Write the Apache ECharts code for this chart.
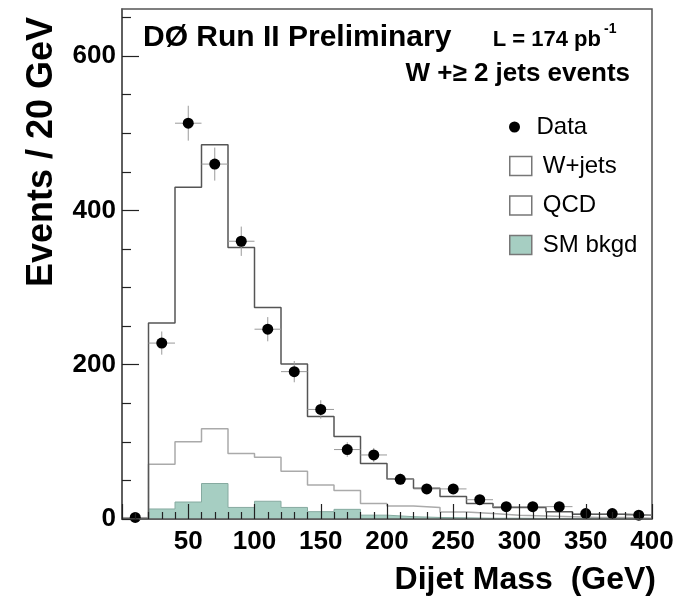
<!DOCTYPE html>
<html>
<head>
<meta charset="utf-8">
<title>Dijet Mass</title>
<script src="https://cdn.jsdelivr.net/npm/echarts@6/dist/echarts.min.js"></script>
<style>
  html, body { margin: 0; padding: 0; background: #fff; }
  #chart { width: 684px; height: 602px; }
</style>
</head>
<body>
<div id="chart"></div>
<script>
// bin edges for the MC histograms (20 GeV bins, 20..400)
const mcEdges = [20, 40, 60, 80, 100, 120, 140, 160, 180, 200, 220, 240, 260, 280, 300, 320, 340, 360, 380, 400]
// stacked totals, as drawn
const wjetsTotal = [254, 430, 485, 352, 274, 201, 133, 107, 72, 52, 40, 29, 20, 15, 15, 9.5, 6, 6, 5]
const qcdTotal = [71, 100, 117, 85, 80, 62, 44, 37, 20, 17, 15, 9, 7, 5, 4, 3, 2, 2, 1]
const smBkgd = [13, 22, 46, 15, 23, 15, 9.5, 12.5, 5, 3, 2, 1.5, 1, 1, 0.8, 0.5, 0.5, 0.3, 0.3]

// data points (bin centres 10..390)
const dataEdges = [0, 20, 40, 60, 80, 100, 120, 140, 160, 180, 200, 220, 240, 260, 280, 300, 320, 340, 360, 380, 400]
const dataCenters = [10, 30, 50, 70, 90, 110, 130, 150, 170, 190, 210, 230, 250, 270, 290, 310, 330, 350, 370, 390]
const dataValues = [2, 228, 513, 460, 360, 246, 191, 142, 90, 83, 51.5, 39, 39, 25, 16, 16, 16, 7, 7, 5]
const dataErrors = [1.4, 15, 22.6, 21.4, 19, 15.7, 13.8, 11.9, 9.5, 9.1, 7.2, 6.2, 6.2, 5, 4, 4, 4, 2.6, 2.6, 2.2]

// axis ticks
const yMajorTicks = [0, 200, 400, 600]
const yMinorTicks = [50, 100, 150, 250, 300, 350, 450, 500, 550, 650]

const FONT = 'Liberation Sans, Arial, Helvetica, sans-serif'
const FRAME = '#555'

// turn a histogram into step points (closed down to zero at both ends)
const toSteps = (edges, vals) => {
  const pts = [[edges[0], 0]]
  vals.forEach((v, i) => pts.push([edges[i], v]))
  pts.push([edges[vals.length], vals[vals.length - 1]])
  pts.push([edges[vals.length], 0])
  return pts
}

const chart = echarts.init(document.getElementById('chart'))

const option = {
  animation: false,
  backgroundColor: '#fff',
  grid: {
    left: 122, right: 32, top: 9, bottom: 83,
    show: true, borderColor: FRAME, borderWidth: 1.5,
    outerBoundsMode: 'none'
  },
  xAxis: {
    type: 'value',
    min: 0, max: 400, interval: 50,
    z: 10,
    axisLine: { lineStyle: { color: FRAME, width: 1.5 } },
    axisTick: { inside: true, length: 15, lineStyle: { color: '#222', width: 1.2 } },
    minorTick: { show: true, splitNumber: 5, length: 7, lineStyle: { color: '#222', width: 1.2 } },
    axisLabel: {
      showMinLabel: false, color: '#000', fontFamily: FONT,
      fontWeight: 'bold', fontSize: 26, margin: 10
    },
    splitLine: { show: false }
  },
  yAxis: [
    {
      type: 'value', position: 'left',
      min: 0, max: 661,
      z: 10,
      axisLine: { lineStyle: { color: FRAME, width: 1.5 } },
      axisTick: { inside: true, length: 9, customValues: yMinorTicks, lineStyle: { color: '#222', width: 1.2 } },
      axisLabel: {
        customValues: yMajorTicks, color: '#000', fontFamily: FONT,
        fontWeight: 'bold', fontSize: 26, margin: 6
      },
      splitLine: { show: false }
    },
    {
      type: 'value', position: 'left',
      min: 0, max: 661,
      z: 10,
      axisLine: { show: false },
      axisTick: { inside: true, length: 17, customValues: yMajorTicks, lineStyle: { color: '#222', width: 1.2 } },
      axisLabel: { show: false },
      splitLine: { show: false }
    }
  ],
  legend: [
    {
      left: 504, top: 110, orient: 'vertical',
      itemWidth: 22, itemHeight: 11,
      data: [{ name: 'Data', icon: 'circle', itemStyle: { color: '#000', opacity: 1 } }],
      textStyle: { fontFamily: FONT, fontSize: 24, lineHeight: 24, color: '#000', padding: [0, 0, 0, 6] },
      selectedMode: false
    },
    {
      left: 504, top: 149, orient: 'vertical',
      itemWidth: 22, itemHeight: 19, itemGap: 15.5,
      data: [
        { name: 'W+jets', icon: 'rect', itemStyle: { color: '#fff', borderColor: '#777', borderWidth: 1.5 } },
        { name: 'QCD', icon: 'rect', itemStyle: { color: '#fff', borderColor: '#777', borderWidth: 1.5 } },
        { name: 'SM bkgd', icon: 'rect', itemStyle: { color: '#a6cec2', borderColor: '#777', borderWidth: 1.5 } }
      ],
      textStyle: { fontFamily: FONT, fontSize: 24, lineHeight: 24, color: '#000', padding: [0, 0, 0, 6] },
      selectedMode: false
    }
  ],
  graphic: [
    {
      type: 'text', x: 143, y: 38,
      style: { text: 'DØ Run II Preliminary', font: 'bold 30px ' + FONT, fill: '#000', align: 'left', verticalAlign: 'middle' }
    },
    {
      type: 'text', x: 601, y: 40,
      style: { text: 'L = 174 pb', font: 'bold 22px ' + FONT, fill: '#000', align: 'right', verticalAlign: 'middle' }
    },
    {
      type: 'text', x: 604, y: 29,
      style: { text: '-1', font: 'bold 14px ' + FONT, fill: '#000', align: 'left', verticalAlign: 'middle' }
    },
    {
      type: 'text', x: 630, y: 74,
      style: { text: 'W +≥ 2 jets events', font: 'bold 26px ' + FONT, fill: '#000', align: 'right', verticalAlign: 'middle' }
    },
    {
      type: 'text', x: 42, y: 152, rotation: Math.PI / 2,
      style: { text: 'Events / 20 GeV', font: 'bold 36px ' + FONT, fill: '#000', align: 'center', verticalAlign: 'middle' }
    },
    {
      type: 'text', x: 656, y: 580,
      style: { text: 'Dijet Mass  (GeV)', font: 'bold 32px ' + FONT, fill: '#000', align: 'right', verticalAlign: 'middle' }
    }
  ],
  series: [
    {
      name: 'SM bkgd',
      type: 'line', step: 'end', symbol: 'none', z: 2,
      data: toSteps(mcEdges, smBkgd),
      lineStyle: { color: '#86aaa0', width: 1 },
      itemStyle: { color: '#a6cec2' },
      areaStyle: { color: '#a6cec2', opacity: 1, origin: 0 }
    },
    {
      name: 'QCD',
      type: 'line', step: 'end', symbol: 'none', z: 3,
      data: toSteps(mcEdges, qcdTotal),
      lineStyle: { color: '#aaa', width: 1.5 },
      itemStyle: { color: '#aaa' }
    },
    {
      name: 'W+jets',
      type: 'line', step: 'end', symbol: 'none', z: 4,
      data: toSteps(mcEdges, wjetsTotal),
      lineStyle: { color: '#555', width: 1.5 },
      itemStyle: { color: '#555' }
    },
    {
      name: 'Data errors',
      type: 'custom', z: 5,
      data: dataCenters.map((c, i) => [c, dataValues[i], dataErrors[i], dataEdges[i], dataEdges[i + 1]]),
      renderItem: (params, api) => {
        const y = api.value(1)
        const e = api.value(2)
        const l = api.coord([api.value(3), y])
        const r = api.coord([api.value(4), y])
        const t = api.coord([api.value(0), y + e])
        const b = api.coord([api.value(0), Math.max(0, y - e)])
        const style = { stroke: '#9a9a9a', lineWidth: 1 }
        return {
          type: 'group',
          children: [
            { type: 'line', shape: { x1: l[0], y1: l[1], x2: r[0], y2: r[1] }, style },
            { type: 'line', shape: { x1: t[0], y1: t[1], x2: b[0], y2: b[1] }, style }
          ]
        }
      }
    },
    {
      name: 'Data',
      type: 'scatter', z: 6,
      symbol: 'circle', symbolSize: 11,
      data: dataCenters.map((c, i) => [c, dataValues[i]]),
      itemStyle: { color: '#000', opacity: 1 }
    }
  ]
}

chart.setOption(option)
</script>
</body>
</html>
